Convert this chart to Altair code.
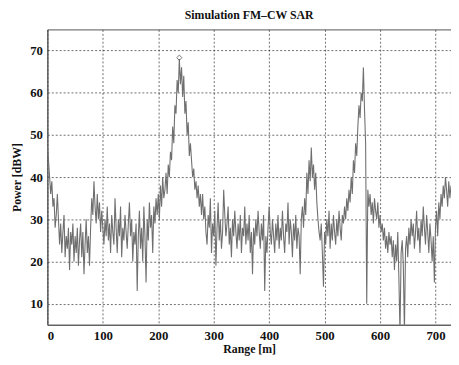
import altair as alt
import pandas as pd

range_m = list(range(0, 730, 2))
power_dbw = [
    47, 44, 40, 36, 39, 33, 35, 28, 31, 36,
    30, 24, 29, 22, 27, 31, 21, 26, 23, 28,
    18, 27, 24, 29, 20, 26, 22, 28, 19, 25,
    29, 21, 27, 17, 24, 30, 22, 26, 19, 28,
    35, 31, 39, 33, 29, 36, 30, 34, 27, 32,
    28, 24, 30, 26, 33, 25, 29, 22, 31, 27,
    24, 35, 28, 22, 30, 26, 33, 21, 28, 25,
    31, 27, 23, 29, 34, 26, 30, 20, 27, 24,
    29, 13, 26, 32, 23, 28, 20, 33, 26, 15,
    30, 25, 34, 28, 31, 22, 33, 29, 35, 31,
    36, 30, 38, 33, 40, 35, 37, 41, 36, 43,
    40, 46, 44, 52, 48, 57, 55, 63, 60, 68,
    62, 66, 59, 64, 55, 58, 50, 53, 45, 48,
    44, 40, 42, 37, 39, 35, 38, 33, 36, 31,
    36, 30, 33, 27, 24, 31, 28, 35, 22, 29,
    26, 32, 19, 28, 34, 25, 30, 23, 27, 37,
    31, 26, 29, 33, 24, 28, 21, 30, 26, 32,
    27, 23, 29, 25, 31, 22, 28, 26, 33, 24,
    29, 25, 31, 22, 27, 17, 28, 24, 30, 26,
    32, 27, 23, 29, 25, 31, 13, 26, 22, 28,
    33, 27, 24, 30, 26, 22, 29, 25, 31, 23,
    28, 25, 32, 26, 22, 29, 27, 34, 24, 30,
    27, 21, 29, 25, 31, 23, 28, 26, 17, 30,
    33, 28, 35, 31, 41, 36, 44, 39, 47, 40,
    43, 37, 41, 34, 30, 27, 25, 29, 22, 14,
    27, 24, 30, 26, 32, 23, 29, 25, 31, 27,
    24, 30, 26, 32, 28, 25, 31, 29, 33, 30,
    35, 32, 37, 34, 40, 36, 44, 41, 48, 45,
    52, 57, 54, 60, 58, 66, 56, 48, 10, 37,
    33, 36, 31, 34, 29, 35, 32, 30, 34, 28,
    31, 27, 29, 25, 28, 23, 26, 22, 27, 24,
    26, 21, 25, 18, 24, 20, 27, 16, 3, 22,
    25, 19, 3, 23, 26, 21, 28, 24, 30, 26,
    29, 23, 27, 32, 25, 28, 22, 30, 26, 33,
    28, 24, 31, 27, 22, 29, 25, 20, 26, 15,
    28, 32, 26, 34, 30, 36, 33, 38, 35, 40,
    37, 33, 39, 35, 38,
]
peak_range = [238]
peak_power = [68.3]

x_ticks = [0, 100, 200, 300, 400, 500, 600, 700]
y_ticks = [10, 20, 30, 40, 50, 60, 70]

df = pd.DataFrame({"range": range_m, "power": power_dbw})
peak_df = pd.DataFrame({"range": peak_range, "power": peak_power})

FONT = "Liberation Serif"

x_enc = alt.X(
    "range:Q",
    scale=alt.Scale(domain=[0, 728], nice=False, zero=False),
    axis=alt.Axis(values=x_ticks, title="Range [m]", format="d"),
)
y_enc = alt.Y(
    "power:Q",
    scale=alt.Scale(domain=[5, 75], nice=False, zero=False),
    axis=alt.Axis(values=y_ticks, title="Power [dBW]", format="d"),
)

line = alt.Chart(df).mark_line(color="#6f6f6f", strokeWidth=1.1, clip=True).encode(
    x=x_enc, y=y_enc
)
peak = alt.Chart(peak_df).mark_point(
    shape="diamond", filled=False, color="#444444", size=28, strokeWidth=1
).encode(x="range:Q", y="power:Q")

chart = (
    alt.layer(line, peak)
    .properties(
        width=410,
        height=300,
        title=alt.TitleParams(
            "Simulation FM\u2013CW SAR",
            font=FONT,
            fontSize=12,
            fontWeight="bold",
            color="#111111",
            offset=8,
        ),
        autosize=alt.AutoSizeParams(type="none"),
        padding={"left": 40, "top": 19, "right": 0, "bottom": 30},
        background="white",
    )
    .configure_view(stroke="#555555", strokeWidth=1)
    .configure_axis(
        labelFont=FONT,
        labelFontSize=13,
        labelFontWeight="bold",
        labelColor="#111111",
        titleFont=FONT,
        titleFontSize=12,
        titleFontWeight="bold",
        titleColor="#111111",
        grid=True,
        gridColor="#333333",
        gridDash=[2, 2],
        gridWidth=0.8,
        gridOpacity=0.9,
        domainColor="#555555",
        ticks=False,
        labelPadding=5,
    )
    .configure_axisY(titlePadding=6)
    .configure_axisX(titlePadding=1)
)

chart.save("out.html", embed_options={"renderer": "svg", "actions": False})
